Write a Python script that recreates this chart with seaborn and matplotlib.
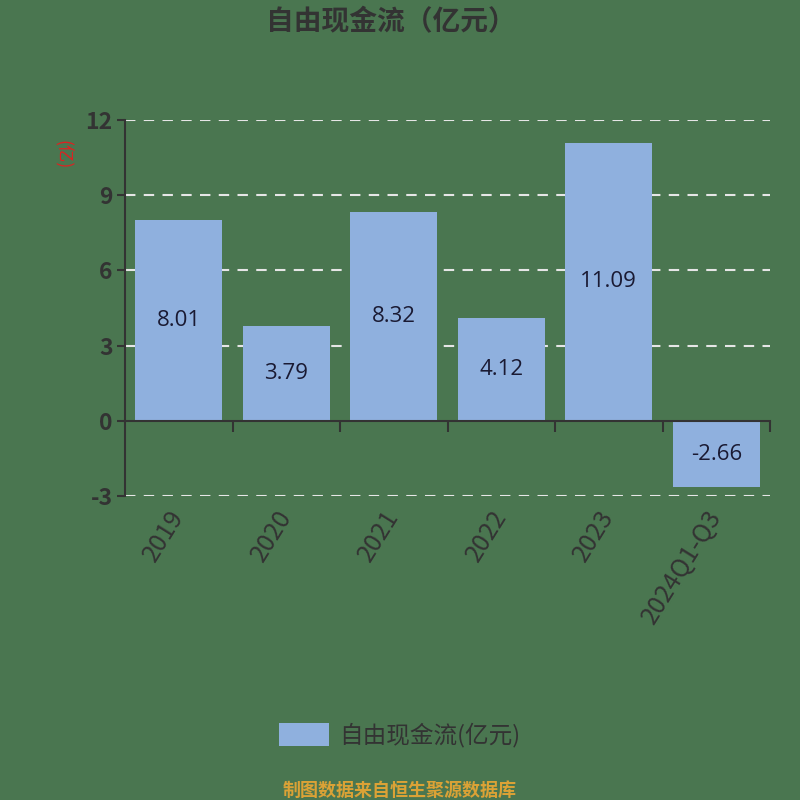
import matplotlib
matplotlib.use("Agg")
import matplotlib.pyplot as plt
import seaborn as sns
import pandas as pd
from matplotlib.patches import Patch
from matplotlib.ticker import FixedLocator

categories = ["2019", "2020", "2021", "2022", "2023", "2024Q1-Q3"]
values = [8.01, 3.79, 8.32, 4.12, 11.09, -2.66]
yticks = [-3, 0, 3, 6, 9, 12]
series_name = "自由现金流(亿元)"
title = "自由现金流（亿元）"
unit = "(亿)"
source = "制图数据来自恒生聚源数据库"

BG = "#4a7650"
BAR = "#8fb0de"
DARK = "#333333"

sns.set_theme(style="white")
plt.rcParams["font.family"] = ["Noto Sans CJK SC", "DejaVu Sans"]

fig = plt.figure(figsize=(8, 8), dpi=100, facecolor=BG)
ax = fig.add_axes([125/800, 1-496/800, 645/800, 376/800])
ax.set_facecolor(BG)

df = pd.DataFrame({"cat": categories, "val": values})
sns.barplot(data=df, x="cat", y="val", color=BAR, saturation=1, width=0.81,
            linewidth=0, edgecolor="none", ax=ax)

ax.set_ylim(-3, 12)
ax.set_xlim(-0.5, len(categories) - 0.5)
ax.set_yticks(yticks)
ax.set_yticklabels([str(t) for t in yticks], fontsize=16.5, color=DARK, fontweight="bold")
ax.tick_params(axis="y", length=6, width=1.5, color=DARK, pad=3, left=True)

for t in yticks:
    if t != 0:
        ax.axhline(t, color="#e6e6e6", lw=1.5, ls=(0, (5, 4)), zorder=0)

for s in ["top", "right"]:
    ax.spines[s].set_visible(False)
ax.spines["left"].set_color(DARK)
ax.spines["left"].set_linewidth(1.5)
ax.spines["bottom"].set_position(("data", 0))
ax.spines["bottom"].set_color(DARK)
ax.spines["bottom"].set_linewidth(1.5)

ax.xaxis.set_minor_locator(FixedLocator([i + 0.5 for i in range(len(categories))]))
ax.tick_params(axis="x", which="minor", length=8, width=1.5, color=DARK, bottom=True, direction="out")
ax.tick_params(axis="x", which="major", length=0, pad=66)
ax.set_xticks(range(len(categories)))
ax.set_xticklabels(categories, rotation=58, ha="right", va="center", rotation_mode="anchor",
                   fontsize=18, color=DARK)
ax.set_xlabel("")
ax.set_ylabel("")

for c in ax.containers:
    ax.bar_label(c, fmt="%.2f", label_type="center", fontsize=16, color="#1a1a33",
                 family=["Open Sans", "DejaVu Sans"])

fig.text(391/800, 1-22/800, title, ha="center", va="center", fontsize=20,
         fontweight="bold", color=DARK)
fig.text(62/800, 1-155/800, unit, ha="center", va="center", rotation=-90,
         fontsize=12.5, color="#e02020")

fig.legend(handles=[Patch(facecolor=BAR, edgecolor="none", label=series_name)],
           loc="center", bbox_to_anchor=(400/800, 1-735/800), frameon=False,
           fontsize=17, handlelength=2.1, handleheight=1.1, handletextpad=0.45,
           labelcolor=DARK)

fig.text(400/800, 1-790/800, source, ha="center", va="center", fontsize=13,
         color="#dba236", fontweight="bold")

fig.savefig("out.png", dpi=100, facecolor=BG)
